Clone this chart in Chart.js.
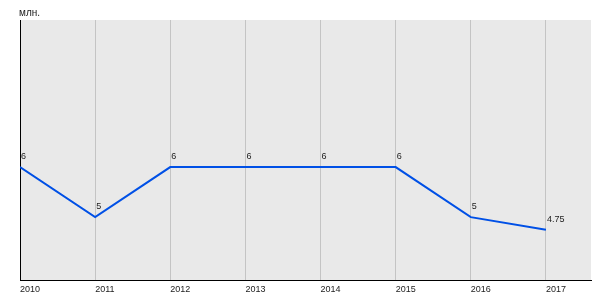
<!DOCTYPE html>
<html>
<head>
<meta charset="utf-8">
<script src="https://cdn.jsdelivr.net/npm/chart.js@4"></script>
<style>
  html, body { margin: 0; padding: 0; background: #fff; }
  #wrap { width: 600px; height: 300px; }
</style>
</head>
<body>
<div id="wrap"><canvas id="chart" width="600" height="300"></canvas></div>
<script>
// Data
const years = [2010, 2011, 2012, 2013, 2014, 2015, 2016, 2017];
const values = [6, 5, 6, 6, 6, 6, 5, 4.75];
const unitLabel = 'млн.';

// plot background (grey area)
const areaBg = {
    id: 'areaBg',
    beforeDraw(chart) {
        const { ctx, chartArea: a } = chart;
        ctx.save();
        ctx.fillStyle = '#e9e9e9';
        ctx.fillRect(a.left, a.top, a.right - a.left, a.bottom - a.top);
        ctx.restore();
    }
};

// value labels + unit caption
const valueLabels = {
    id: 'valueLabels',
    afterDatasetsDraw(chart) {
        const { ctx, chartArea: a } = chart;
        const meta = chart.getDatasetMeta(0);
        ctx.save();
        ctx.font = '9px Arial, "Liberation Sans", sans-serif';
        ctx.fillStyle = '#222';
        ctx.textAlign = 'left';
        ctx.textBaseline = 'alphabetic';
        meta.data.forEach((pt, i) => {
            ctx.fillText(String(values[i]), pt.x + 1, pt.y - 8);
        });
        ctx.font = '10px Arial, "Liberation Sans", sans-serif';
        ctx.fillText(unitLabel, a.left - 1, a.top - 4);
        ctx.restore();
    }
};

new Chart(document.getElementById('chart'), {
    type: 'line',
    data: {
        datasets: [{
            data: years.map((y, i) => ({ x: y, y: values[i] })),
            borderColor: '#0050e6',
            borderWidth: 2,
            pointRadius: 0,
            tension: 0,
            fill: false
        }]
    },
    options: {
        responsive: false,
        animation: false,
        layout: { padding: { left: 20, top: 20, right: 9, bottom: 1 } },
        plugins: {
            legend: { display: false },
            tooltip: { enabled: false }
        },
        scales: {
            x: {
                type: 'linear',
                min: 2010,
                max: 2017.6,
                afterBuildTicks: scale => {
                    scale.ticks = years.map(v => ({ value: v }));
                },
                grid: { color: '#c4c4c4', drawTicks: false },
                border: { color: '#000', width: 1 },
                ticks: {
                    align: 'start',
                    padding: 4,
                    color: '#222',
                    font: { family: 'Arial, "Liberation Sans", sans-serif', size: 9 },
                    callback: v => String(v)
                }
            },
            y: {
                min: 3.74,
                max: 8.94,
                grid: { display: false, drawTicks: false },
                border: { color: '#000', width: 1 },
                ticks: { display: false }
            }
        }
    },
    plugins: [areaBg, valueLabels]
});
</script>
</body>
</html>
